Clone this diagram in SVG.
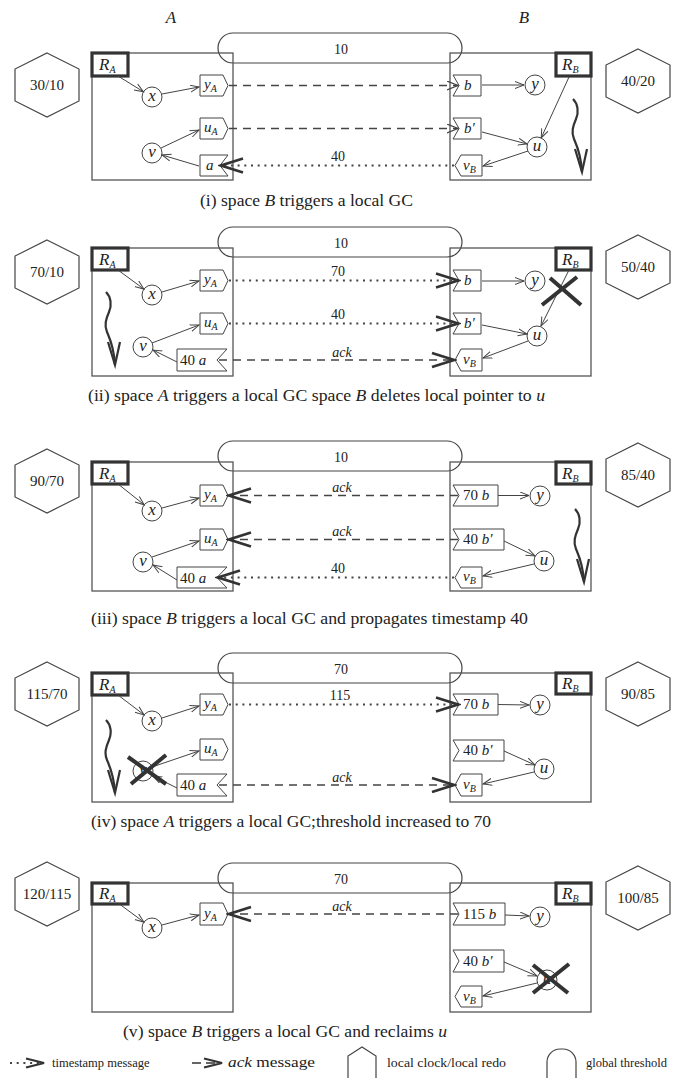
<svg xmlns="http://www.w3.org/2000/svg" width="677" height="1078" viewBox="0 0 677 1078">
<style>
text{font-family:"Liberation Serif","DejaVu Serif",serif;fill:#222}
.it{font-style:italic}
.n{font-size:17px;font-style:italic;text-anchor:middle}
.t{font-size:15px}
.sub{font-size:10px;font-style:italic}
.hl{font-size:15px;text-anchor:middle}
.ml{font-size:14px;text-anchor:middle}
.cap{font-size:16px}
.box{fill:none;stroke:#555;stroke-width:1.3}
.root{fill:#fff;stroke:#333;stroke-width:3.2}
.node{fill:#fff;stroke:#444;stroke-width:1}
.tag{fill:#fff;stroke:#444;stroke-width:1}
.hex{fill:#fff;stroke:#444;stroke-width:1.2}
.thr{fill:none;stroke:#444;stroke-width:1.2}
.e{fill:none;stroke:#444;stroke-width:1;marker-end:url(#ah)}
.dash{fill:none;stroke:#444;stroke-width:1.5;stroke-dasharray:8 6}
.dot{fill:none;stroke:#444;stroke-width:1.8;stroke-dasharray:2 4.7}
.bold{marker-end:url(#mb)}
.thin{marker-end:url(#mt)}
.cross{stroke:#333;stroke-width:4}
.sq{fill:none;stroke:#333;stroke-width:2.2}
.lg{font-size:12.5px}
</style>
<defs>
<marker id="ah" markerWidth="12" markerHeight="10" refX="9" refY="4" orient="auto" markerUnits="userSpaceOnUse"><path d="M0,0.5 L9,4 L0,7.5" fill="none" stroke="#444" stroke-width="1"/></marker>
<marker id="mt" markerWidth="14" markerHeight="12" refX="11" refY="5" orient="auto" markerUnits="userSpaceOnUse"><path d="M0,0.5 L11,5 L0,9.5" fill="none" stroke="#444" stroke-width="1.2"/></marker>
<marker id="mb" markerWidth="26" markerHeight="20" refX="23" refY="9" orient="auto" markerUnits="userSpaceOnUse"><path d="M1,2 L23,9 L1,16" fill="none" stroke="#333" stroke-width="2.6"/></marker>
<marker id="ml" markerWidth="22" markerHeight="14" refX="19" refY="6" orient="auto" markerUnits="userSpaceOnUse"><path d="M1,1.5 L19,6 L1,10.5" fill="none" stroke="#333" stroke-width="2.2"/></marker>
<g id="squig"><path class="sq" d="M0,0 C5,5 6,13 3,20 C0,27 -2,33 1,40 C4,47 8,55 9,73"/><path class="sq" d="M2,50 L9,73 L14,50" stroke-width="1.8"/></g>
</defs>
<rect width="677" height="1078" fill="#fff"/>

<text x="171" y="23" class="it" font-size="17" text-anchor="middle">A</text>
<text x="524" y="23" class="it" font-size="17" text-anchor="middle">B</text>

<!-- ========== Panel (i) ========== -->
<g id="p1-threshold"><rect class="thr" x="218" y="33" width="244" height="30" rx="15"/><text class="ml" x="341" y="54">10</text></g>
<g id="p1-spaceA"><rect class="box" x="92" y="53" width="141" height="127"/></g>
<g id="p1-spaceB"><rect class="box" x="450" y="53" width="141" height="127"/></g>
<g id="p1-clockA"><polygon class="hex" points="47,53 79,69 79,101 47,117 15,101 15,69"/><text class="hl" x="47" y="90">30/10</text></g>
<g id="p1-clockB"><polygon class="hex" points="638,49 670,65 670,97 638,113 606,97 606,65"/><text class="hl" x="638" y="86">40/20</text></g>
<g id="p1-RA"><rect class="root" x="92" y="53" width="36" height="23"/><text x="99" y="70" class="it" font-size="17">R<tspan class="sub" dy="3">A</tspan></text></g>
<g id="p1-RB"><rect class="root" x="556" y="53" width="35" height="23"/><text x="562" y="70" class="it" font-size="17">R<tspan class="sub" dy="3">B</tspan></text></g>
<g id="p1-x"><circle class="node" cx="152" cy="97" r="10"/><text class="n" x="152" y="101">x</text></g>
<g id="p1-v"><circle class="node" cx="152" cy="153" r="10"/><text class="n" x="152" y="157">v</text></g>
<g id="p1-yA"><polygon class="tag" points="200,75 223,75 228,85.5 223,96 200,96"/><text class="t it" x="204" y="89">y<tspan class="sub" dy="3">A</tspan></text></g>
<g id="p1-uA"><polygon class="tag" points="200,118 223,118 228,128.5 223,139 200,139"/><text class="t it" x="204" y="132">u<tspan class="sub" dy="3">A</tspan></text></g>
<g id="p1-a"><polygon class="tag" points="200,155 228,155 220,165.5 228,176 200,176"/><text class="t it" x="206" y="170">a</text></g>
<g id="p1-b"><polygon class="tag" points="453,75 481,75 481,96 453,96 459,85.5"/><text class="t it" x="464" y="90">b</text></g>
<g id="p1-b2"><polygon class="tag" points="453,118 481,118 481,139 453,139 459,128.5"/><text class="t it" x="464" y="133">b′</text></g>
<g id="p1-vB"><polygon class="tag" points="461,155 482,155 482,176 461,176 455,165.5"/><text class="t it" x="463" y="170">v<tspan class="sub" dy="3">B</tspan></text></g>
<g id="p1-y"><circle class="node" cx="535" cy="85" r="10"/><text class="n" x="535" y="89">y</text></g>
<g id="p1-u"><circle class="node" cx="537" cy="147" r="10"/><text class="n" x="537" y="151">u</text></g>
<g id="p1-connectors">
<line class="e" x1="118" y1="76" x2="143.5" y2="91.8"/>
<line class="e" x1="162" y1="94" x2="199" y2="87"/>
<line class="e" x1="161" y1="148" x2="199" y2="130"/>
<line class="e" x1="199" y1="166" x2="162" y2="155"/>
<line class="e" x1="482" y1="85" x2="524" y2="85"/>
<line class="e" x1="482" y1="132" x2="527" y2="144"/>
<line class="e" x1="569" y1="77" x2="541.2" y2="137.9"/>
<line class="e" x1="528" y1="151" x2="483" y2="166"/>
<line class="dash thin" x1="229" y1="85.5" x2="458" y2="85.5"/>
<line class="dash thin" x1="229" y1="128.5" x2="458" y2="128.5"/>
<line class="dot bold" x1="454" y1="165.5" x2="221" y2="165.5"/>
<text class="ml" x="338" y="161">40</text>
<use href="#squig" x="573" y="99"/>
</g>
<text class="cap" x="200" y="206" textLength="213" lengthAdjust="spacingAndGlyphs">(i) space <tspan class="it">B</tspan> triggers a local GC</text>

<!-- ========== Panel (ii) ========== -->
<g id="p2-threshold"><rect class="thr" x="218" y="227" width="244" height="30" rx="15"/><text class="ml" x="341" y="248">10</text></g>
<g id="p2-spaceA"><rect class="box" x="92" y="248" width="141" height="128"/></g>
<g id="p2-spaceB"><rect class="box" x="450" y="248" width="141" height="128"/></g>
<g id="p2-clockA"><polygon class="hex" points="47,240 79,256 79,288 47,304 15,288 15,256"/><text class="hl" x="47" y="277">70/10</text></g>
<g id="p2-clockB"><polygon class="hex" points="638,235 670,251 670,283 638,299 606,283 606,251"/><text class="hl" x="638" y="272">50/40</text></g>
<g id="p2-RA"><rect class="root" x="92" y="248" width="36" height="22"/><text x="99" y="265" class="it" font-size="17">R<tspan class="sub" dy="3">A</tspan></text></g>
<g id="p2-RB"><rect class="root" x="556" y="248" width="35" height="22"/><text x="562" y="265" class="it" font-size="17">R<tspan class="sub" dy="3">B</tspan></text></g>
<g id="p2-x"><circle class="node" cx="152" cy="295" r="10"/><text class="n" x="152" y="299">x</text></g>
<g id="p2-v"><circle class="node" cx="143" cy="347" r="10"/><text class="n" x="143" y="351">v</text></g>
<g id="p2-yA"><polygon class="tag" points="200,270 223,270 228,280.5 223,291 200,291"/><text class="t it" x="204" y="284">y<tspan class="sub" dy="3">A</tspan></text></g>
<g id="p2-uA"><polygon class="tag" points="200,313 223,313 228,323.5 223,334 200,334"/><text class="t it" x="204" y="327">u<tspan class="sub" dy="3">A</tspan></text></g>
<g id="p2-a"><polygon class="tag" points="177,349 227,349 217,360 227,371 177,371"/><text class="t" x="180" y="365">40<tspan class="it"> a</tspan></text></g>
<g id="p2-b"><polygon class="tag" points="453,270 481,270 481,291 453,291 459,280.5"/><text class="t it" x="464" y="285">b</text></g>
<g id="p2-b2"><polygon class="tag" points="453,313 481,313 481,334 453,334 459,323.5"/><text class="t it" x="464" y="328">b′</text></g>
<g id="p2-vB"><polygon class="tag" points="461,349 482,349 482,371 461,371 455,360"/><text class="t it" x="463" y="364">v<tspan class="sub" dy="3">B</tspan></text></g>
<g id="p2-y"><circle class="node" cx="535" cy="281" r="10"/><text class="n" x="535" y="285">y</text></g>
<g id="p2-u"><circle class="node" cx="537" cy="336" r="10"/><text class="n" x="537" y="340">u</text></g>
<g id="p2-connectors">
<line class="e" x1="118" y1="270" x2="143.9" y2="289.1"/>
<line class="e" x1="162" y1="292" x2="199" y2="281"/>
<line class="e" x1="152" y1="343" x2="199" y2="325"/>
<line class="e" x1="177" y1="362" x2="153" y2="350"/>
<line class="e" x1="482" y1="281" x2="524" y2="281"/>
<line class="e" x1="569" y1="270" x2="541" y2="326"/>
<line class="e" x1="482" y1="325" x2="527" y2="334"/>
<line class="e" x1="528" y1="341" x2="483" y2="358"/>
<line class="dot bold" x1="229" y1="280.5" x2="458" y2="280.5"/>
<text class="ml" x="338" y="276">70</text>
<line class="dot bold" x1="229" y1="323.5" x2="458" y2="323.5"/>
<text class="ml" x="338" y="319">40</text>
<line class="dash bold" x1="219" y1="360" x2="454" y2="360"/>
<text class="ml it" x="342" y="357">ack</text>
<use href="#squig" x="106" y="292"/>
<line class="cross" x1="550" y1="278" x2="581" y2="305"/>
<line class="cross" x1="542" y1="305" x2="577" y2="277"/>
</g>
<text class="cap" x="88" y="401" textLength="457" lengthAdjust="spacingAndGlyphs">(ii) space <tspan class="it">A</tspan> triggers a local GC space <tspan class="it">B</tspan> deletes local pointer to <tspan class="it">u</tspan></text>

<!-- ========== Panel (iii) ========== -->
<g id="p3-threshold"><rect class="thr" x="218" y="441" width="244" height="30" rx="15"/><text class="ml" x="341" y="462">10</text></g>
<g id="p3-spaceA"><rect class="box" x="92" y="462" width="141" height="129"/></g>
<g id="p3-spaceB"><rect class="box" x="450" y="462" width="141" height="129"/></g>
<g id="p3-clockA"><polygon class="hex" points="47,449 79,465 79,497 47,513 15,497 15,465"/><text class="hl" x="47" y="486">90/70</text></g>
<g id="p3-clockB"><polygon class="hex" points="638,443 670,459 670,491 638,507 606,491 606,459"/><text class="hl" x="638" y="480">85/40</text></g>
<g id="p3-RA"><rect class="root" x="92" y="462" width="36" height="22"/><text x="99" y="479" class="it" font-size="17">R<tspan class="sub" dy="3">A</tspan></text></g>
<g id="p3-RB"><rect class="root" x="556" y="462" width="35" height="22"/><text x="562" y="479" class="it" font-size="17">R<tspan class="sub" dy="3">B</tspan></text></g>
<g id="p3-x"><circle class="node" cx="152" cy="511" r="10"/><text class="n" x="152" y="515">x</text></g>
<g id="p3-v"><circle class="node" cx="143" cy="562" r="10"/><text class="n" x="143" y="566">v</text></g>
<g id="p3-yA"><polygon class="tag" points="200,485 223,485 228,495.5 223,506 200,506"/><text class="t it" x="204" y="499">y<tspan class="sub" dy="3">A</tspan></text></g>
<g id="p3-uA"><polygon class="tag" points="200,529 223,529 228,539.5 223,550 200,550"/><text class="t it" x="204" y="543">u<tspan class="sub" dy="3">A</tspan></text></g>
<g id="p3-a"><polygon class="tag" points="177,567 227,567 217,577.5 227,588 177,588"/><text class="t" x="180" y="583">40<tspan class="it"> a</tspan></text></g>
<g id="p3-b"><polygon class="tag" points="453,485 498,485 498,506 453,506 459,495.5"/><text class="t" x="463" y="500">70<tspan class="it"> b</tspan></text></g>
<g id="p3-b2"><polygon class="tag" points="453,529 504,529 504,550 453,550 459,539.5"/><text class="t" x="463" y="544">40<tspan class="it"> b′</tspan></text></g>
<g id="p3-vB"><polygon class="tag" points="461,567 482,567 482,588 461,588 455,577.5"/><text class="t it" x="463" y="581">v<tspan class="sub" dy="3">B</tspan></text></g>
<g id="p3-y"><circle class="node" cx="540" cy="496" r="10"/><text class="n" x="540" y="500">y</text></g>
<g id="p3-u"><circle class="node" cx="544" cy="561" r="10"/><text class="n" x="544" y="565">u</text></g>
<g id="p3-connectors">
<line class="e" x1="118" y1="484" x2="144.2" y2="504.8"/>
<line class="e" x1="162" y1="508" x2="199" y2="498"/>
<line class="e" x1="152" y1="557" x2="199" y2="541"/>
<line class="e" x1="177" y1="580" x2="153" y2="565"/>
<line class="e" x1="498" y1="495.5" x2="529" y2="495.5"/>
<line class="e" x1="504" y1="541" x2="535" y2="556"/>
<line class="e" x1="534" y1="564" x2="483" y2="576"/>
<line class="dash bold" x1="458" y1="495.5" x2="229" y2="495.5"/>
<text class="ml it" x="342" y="492">ack</text>
<line class="dash bold" x1="458" y1="539.5" x2="229" y2="539.5"/>
<text class="ml it" x="342" y="536">ack</text>
<line class="dot bold" x1="454" y1="577.5" x2="218" y2="577.5"/>
<text class="ml" x="338" y="573">40</text>
<use href="#squig" x="575" y="509"/>
</g>
<text class="cap" x="91" y="624" textLength="437" lengthAdjust="spacingAndGlyphs">(iii) space <tspan class="it">B</tspan> triggers a local GC and propagates timestamp 40</text>

<!-- ========== Panel (iv) ========== -->
<g id="p4-threshold"><rect class="thr" x="218" y="653" width="244" height="30" rx="15"/><text class="ml" x="341" y="674">70</text></g>
<g id="p4-spaceA"><rect class="box" x="92" y="673" width="141" height="129"/></g>
<g id="p4-spaceB"><rect class="box" x="450" y="673" width="141" height="129"/></g>
<g id="p4-clockA"><polygon class="hex" points="47,662 79,678 79,710 47,726 15,710 15,678"/><text class="hl" x="47" y="699">115/70</text></g>
<g id="p4-clockB"><polygon class="hex" points="638,662 670,678 670,710 638,726 606,710 606,678"/><text class="hl" x="638" y="699">90/85</text></g>
<g id="p4-RA"><rect class="root" x="92" y="673" width="36" height="22"/><text x="99" y="690" class="it" font-size="17">R<tspan class="sub" dy="3">A</tspan></text></g>
<g id="p4-RB"><rect class="root" x="556" y="673" width="35" height="21"/><text x="562" y="689" class="it" font-size="17">R<tspan class="sub" dy="3">B</tspan></text></g>
<g id="p4-x"><circle class="node" cx="152" cy="721" r="10"/><text class="n" x="152" y="725">x</text></g>
<g id="p4-v"><circle class="node" cx="143" cy="771" r="10"/><text class="n" x="143" y="775">v</text></g>
<g id="p4-yA"><polygon class="tag" points="200,694 223,694 228,704.5 223,715 200,715"/><text class="t it" x="204" y="708">y<tspan class="sub" dy="3">A</tspan></text></g>
<g id="p4-uA"><polygon class="tag" points="200,739 223,739 228,749.5 223,760 200,760"/><text class="t it" x="204" y="753">u<tspan class="sub" dy="3">A</tspan></text></g>
<g id="p4-a"><polygon class="tag" points="177,774 227,774 217,785 227,796 177,796"/><text class="t" x="180" y="790">40<tspan class="it"> a</tspan></text></g>
<g id="p4-b"><polygon class="tag" points="453,694 498,694 498,715 453,715 459,704.5"/><text class="t" x="463" y="709">70<tspan class="it"> b</tspan></text></g>
<g id="p4-b2"><polygon class="tag" points="453,740 504,740 504,761 453,761 459,750.5"/><text class="t" x="463" y="755">40<tspan class="it"> b′</tspan></text></g>
<g id="p4-vB"><polygon class="tag" points="461,774 482,774 482,796 461,796 455,785"/><text class="t it" x="463" y="789">v<tspan class="sub" dy="3">B</tspan></text></g>
<g id="p4-y"><circle class="node" cx="540" cy="705" r="10"/><text class="n" x="540" y="709">y</text></g>
<g id="p4-u"><circle class="node" cx="544" cy="769" r="10"/><text class="n" x="544" y="773">u</text></g>
<g id="p4-connectors">
<line class="e" x1="118" y1="695" x2="144.1" y2="714.9"/>
<line class="e" x1="162" y1="718" x2="199" y2="706"/>
<line class="e" x1="152" y1="767" x2="199" y2="751"/>
<line class="e" x1="177" y1="788" x2="153" y2="776"/>
<line class="e" x1="498" y1="704.5" x2="529" y2="705"/>
<line class="e" x1="504" y1="751" x2="535" y2="765"/>
<line class="e" x1="534" y1="772" x2="483" y2="784"/>
<line class="dot bold" x1="229" y1="704.5" x2="458" y2="704.5"/>
<text class="ml" x="340" y="700">115</text>
<line class="dash bold" x1="219" y1="785" x2="454" y2="785"/>
<text class="ml it" x="342" y="782">ack</text>
<use href="#squig" x="106" y="720"/>
<line class="cross" x1="128" y1="757" x2="166" y2="784"/>
<line class="cross" x1="131" y1="784" x2="166" y2="755"/>
</g>
<text class="cap" x="91" y="827" textLength="400" lengthAdjust="spacingAndGlyphs">(iv) space <tspan class="it">A</tspan> triggers a local GC;threshold increased to 70</text>

<!-- ========== Panel (v) ========== -->
<g id="p5-threshold"><rect class="thr" x="218" y="863" width="244" height="30" rx="15"/><text class="ml" x="341" y="884">70</text></g>
<g id="p5-spaceA"><rect class="box" x="92" y="883" width="141" height="129"/></g>
<g id="p5-spaceB"><rect class="box" x="450" y="883" width="141" height="129"/></g>
<g id="p5-clockA"><polygon class="hex" points="47,862 79,878 79,910 47,926 15,910 15,878"/><text class="hl" x="47" y="899">120/115</text></g>
<g id="p5-clockB"><polygon class="hex" points="638,866 670,882 670,914 638,930 606,914 606,882"/><text class="hl" x="638" y="903">100/85</text></g>
<g id="p5-RA"><rect class="root" x="92" y="883" width="36" height="21"/><text x="99" y="899" class="it" font-size="17">R<tspan class="sub" dy="3">A</tspan></text></g>
<g id="p5-RB"><rect class="root" x="556" y="883" width="35" height="21"/><text x="562" y="899" class="it" font-size="17">R<tspan class="sub" dy="3">B</tspan></text></g>
<g id="p5-x"><circle class="node" cx="152" cy="928" r="10"/><text class="n" x="152" y="932">x</text></g>
<g id="p5-yA"><polygon class="tag" points="200,903 223,903 228,914 223,925 200,925"/><text class="t it" x="204" y="918">y<tspan class="sub" dy="3">A</tspan></text></g>
<g id="p5-b"><polygon class="tag" points="453,903 505,903 505,925 453,925 459,914"/><text class="t" x="463" y="919">115<tspan class="it"> b</tspan></text></g>
<g id="p5-b2"><polygon class="tag" points="453,950 504,950 504,972 453,972 459,961"/><text class="t" x="463" y="966">40<tspan class="it"> b′</tspan></text></g>
<g id="p5-vB"><polygon class="tag" points="461,986 482,986 482,1007 461,1007 455,996.5"/><text class="t it" x="463" y="1001">v<tspan class="sub" dy="3">B</tspan></text></g>
<g id="p5-y"><circle class="node" cx="540" cy="917" r="10"/><text class="n" x="540" y="921">y</text></g>
<g id="p5-u"><circle class="node" cx="547" cy="980" r="10"/><text class="n" x="547" y="984">u</text></g>
<g id="p5-connectors">
<line class="e" x1="118" y1="903" x2="143.9" y2="922.1"/>
<line class="e" x1="162" y1="925" x2="199" y2="915"/>
<line class="e" x1="505" y1="915" x2="529" y2="916"/>
<line class="e" x1="504" y1="962" x2="537" y2="976"/>
<line class="e" x1="537" y1="983" x2="483" y2="996"/>
<line class="dash bold" x1="458" y1="914" x2="229" y2="914"/>
<text class="ml it" x="342" y="911">ack</text>
<line class="cross" x1="533" y1="965" x2="568" y2="993"/>
<line class="cross" x1="533" y1="993" x2="569" y2="964"/>
</g>
<text class="cap" x="123" y="1037" textLength="324" lengthAdjust="spacingAndGlyphs">(v) space <tspan class="it">B</tspan> triggers a local GC and reclaims <tspan class="it">u</tspan></text>

<!-- ========== Legend ========== -->
<g id="legend">
<line class="dot" x1="10" y1="1063" x2="44" y2="1063" style="marker-end:url(#ml)"/>
<text class="lg" x="52" y="1067">timestamp message</text>
<line x1="192" y1="1063" x2="222" y2="1063" stroke="#333" stroke-width="1.5" stroke-dasharray="9 5" style="marker-end:url(#ml)"/>
<text x="228" y="1067" font-size="15" textLength="87" lengthAdjust="spacingAndGlyphs"><tspan class="it">ack</tspan> message</text>
<polyline points="348,1080 348,1056 362,1047 376,1056 376,1080" fill="none" stroke="#444" stroke-width="1.2"/>
<text class="lg" x="387" y="1067" textLength="119" lengthAdjust="spacingAndGlyphs">local clock/local redo</text>
<rect x="547" y="1049" width="29" height="42" rx="13" fill="none" stroke="#444" stroke-width="1.2"/>
<text class="lg" x="586" y="1067">global threshold</text>
</g>
</svg>
